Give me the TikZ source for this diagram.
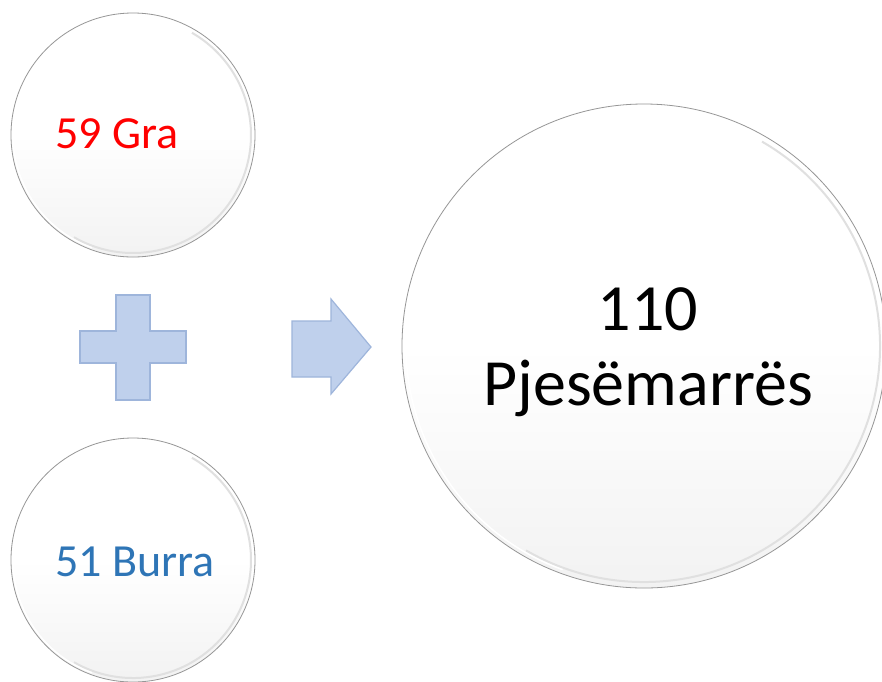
\documentclass[tikz,border=0pt]{standalone}
\usepackage{fontspec}
\setmainfont{Carlito}
\definecolor{shapefill}{RGB}{191,208,236}
\definecolor{shapeedge}{RGB}{158,181,219}
\definecolor{txtred}{RGB}{255,0,0}
\definecolor{txtblue}{RGB}{46,117,182}
\definecolor{rimgray}{RGB}{150,150,150}
\tikzset{
  bubble/.style={circle, inner sep=0pt, draw=rimgray, line width=0.8pt,
    top color=white, bottom color=black!5, middle color=white},
  bluebevel/.style={fill=shapefill, draw=shapeedge, line width=1.2pt, line join=miter},
  smalltxt/.style={anchor=base west, inner sep=0pt, font=\fontsize{46}{50}\selectfont},
  bigtxt/.style={anchor=base, inner sep=0pt, font=\fontsize{66}{75}\selectfont},
}
\begin{document}
\begin{tikzpicture}[x=1pt,y=-1pt]
\useasboundingbox[fill=white] (0,0) rectangle (882,681);
% circles
\node[bubble, minimum size=244pt] (women) at (133,135) {};
\node[bubble, minimum size=244pt] (men) at (133,560) {};
\node[bubble, minimum size=484pt] (total) at (644,346) {};
% inner rims (bevel look)
\foreach \n/\r in {women/118, men/118, total/236}{
  \draw[black!12, line width=2pt] (\n.center) ++(120:\r) arc[start angle=120, end angle=-60, radius=\r];
  \draw[white, line width=1.5pt] (\n.center) ++(110:\r+2) arc[start angle=110, end angle=200, radius=\r+2];
}
% texts
\node[smalltxt, text=txtred] (womentxt) at (55,148) {59 Gra};
\node[smalltxt, text=txtblue] (mentxt) at (55,576) {51 Burra};
\node[bigtxt] (totalnum) at (648,330) {110};
\node[bigtxt] (totalword) at (648,405) {Pjesëmarrës};
% plus sign
\draw[bluebevel] (116,295) -- (150,295) -- (150,331) -- (186,331) -- (186,363) -- (150,363) -- (150,400) -- (116,400) -- (116,363) -- (80,363) -- (80,331) -- (116,331) -- cycle;
% arrow
\draw[bluebevel] (292,321) -- (331,321) -- (331,299) -- (371,347) -- (331,394) -- (331,377) -- (292,377) -- cycle;
\end{tikzpicture}
\end{document}
